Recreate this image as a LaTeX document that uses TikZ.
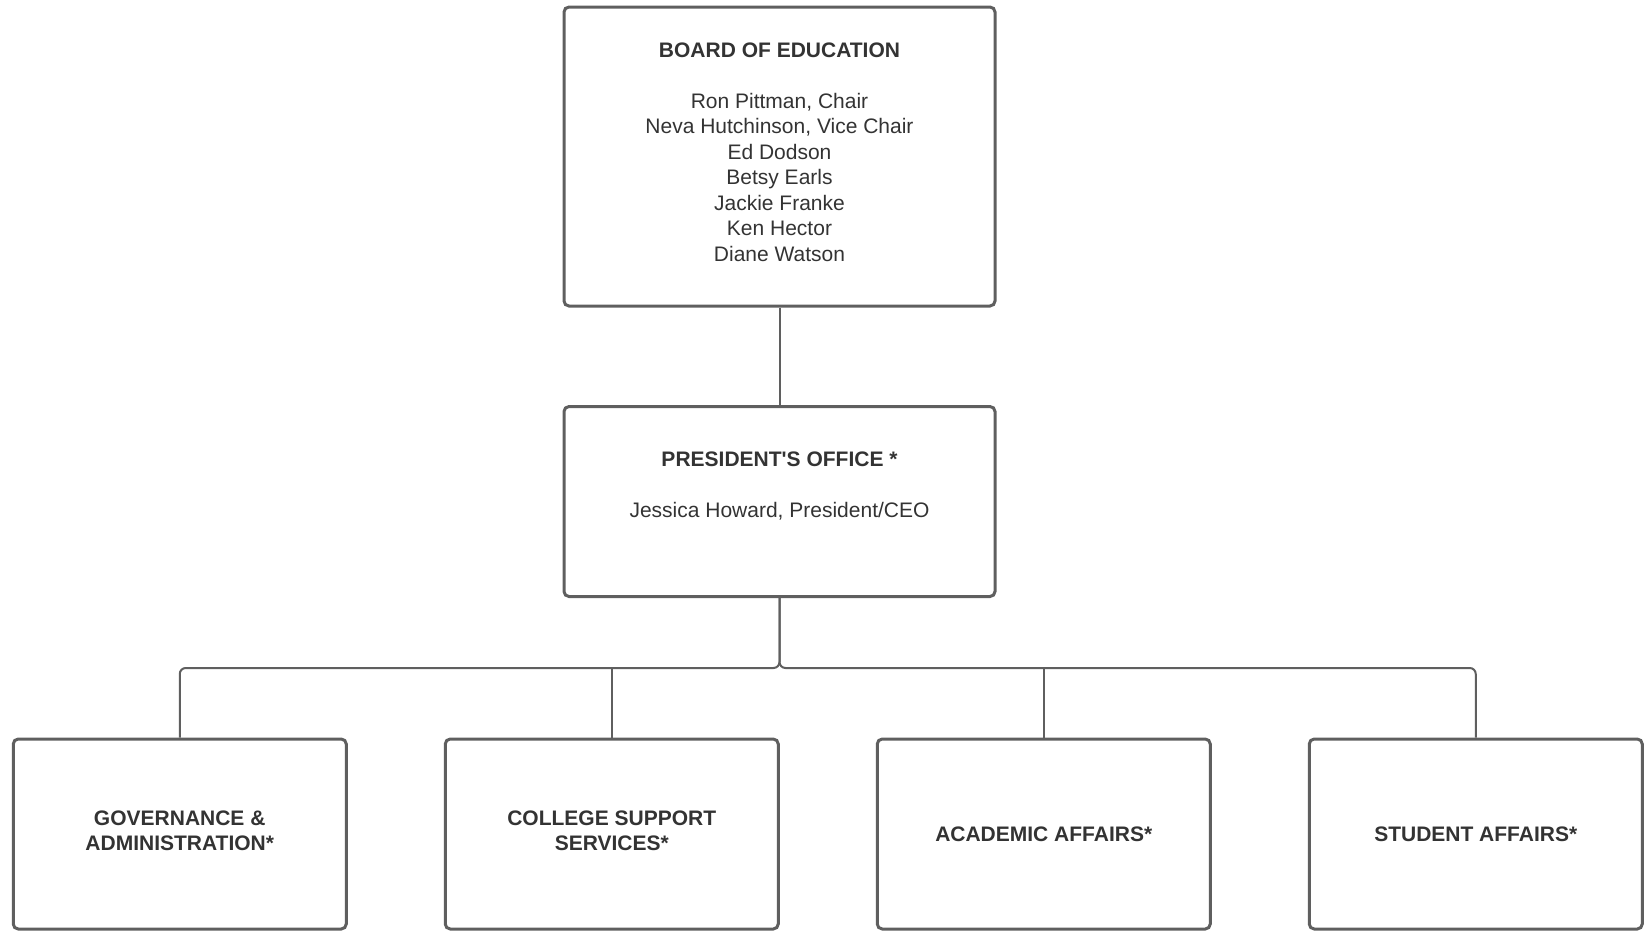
\documentclass[tikz,border=0pt]{standalone}
\usepackage{fontspec}
\setmainfont{Liberation Sans}
\usepackage{tikz}
\usetikzlibrary{positioning}

\definecolor{linegray}{RGB}{95,95,95}
\definecolor{textgray}{RGB}{51,51,51}

\begin{document}
\begin{tikzpicture}[x=1pt,y=-1pt,node distance=432pt,
	org node/.style={draw=linegray,line width=3pt,rounded corners=5pt,align=center,
		text=textgray,font=\fontsize{21}{25.5}\selectfont,inner sep=0pt,
		minimum width=333pt,minimum height=190pt},
	link/.style={draw=linegray,line width=2pt}]
	
	\useasboundingbox (0,0) rectangle (1646,930);
	
	\node[org node, minimum width=431pt, minimum height=299pt] (board) at (779.5,156.5)
	{\textbf{BOARD OF EDUCATION}\\[25.5pt]Ron Pittman, Chair\\Neva Hutchinson, Vice Chair\\Ed Dodson\\Betsy Earls\\Jackie Franke\\Ken Hector\\Diane Watson\\[-16pt]\mbox{}};
	\node[org node, minimum width=431pt] (pres) [below of=board, node distance=345pt]
	{\textbf{PRESIDENT\textquotesingle S OFFICE *}\\[25.5pt]Jessica Howard, President/CEO\\[8pt]\mbox{}};
	
	\node[org node] (gov) at (179.75,834) {\textbf{GOVERNANCE \&}\\\textbf{ADMINISTRATION*}\\[-19pt]\mbox{}};
	\node[org node] (coll) [right of=gov] {\textbf{COLLEGE SUPPORT}\\\textbf{SERVICES*}\\[-19pt]\mbox{}};
	\node[org node] (acad) [right of=coll] {\textbf{ACADEMIC AFFAIRS*}};
	\node[org node] (stud) [right of=acad] {\textbf{STUDENT AFFAIRS*}};
	
	\coordinate (bus) at (0,668);
	
	\draw[link] (board) -- (pres);
	\draw[link, rounded corners=6pt] (pres.south) -- (pres.south |- bus) -| (gov.north);
	\draw[link, rounded corners=6pt] (pres.south) -- (pres.south |- bus) -| (stud.north);
	\draw[link] (coll.north) -- (coll.north |- bus);
	\draw[link] (acad.north) -- (acad.north |- bus);
\end{tikzpicture}
\end{document}
